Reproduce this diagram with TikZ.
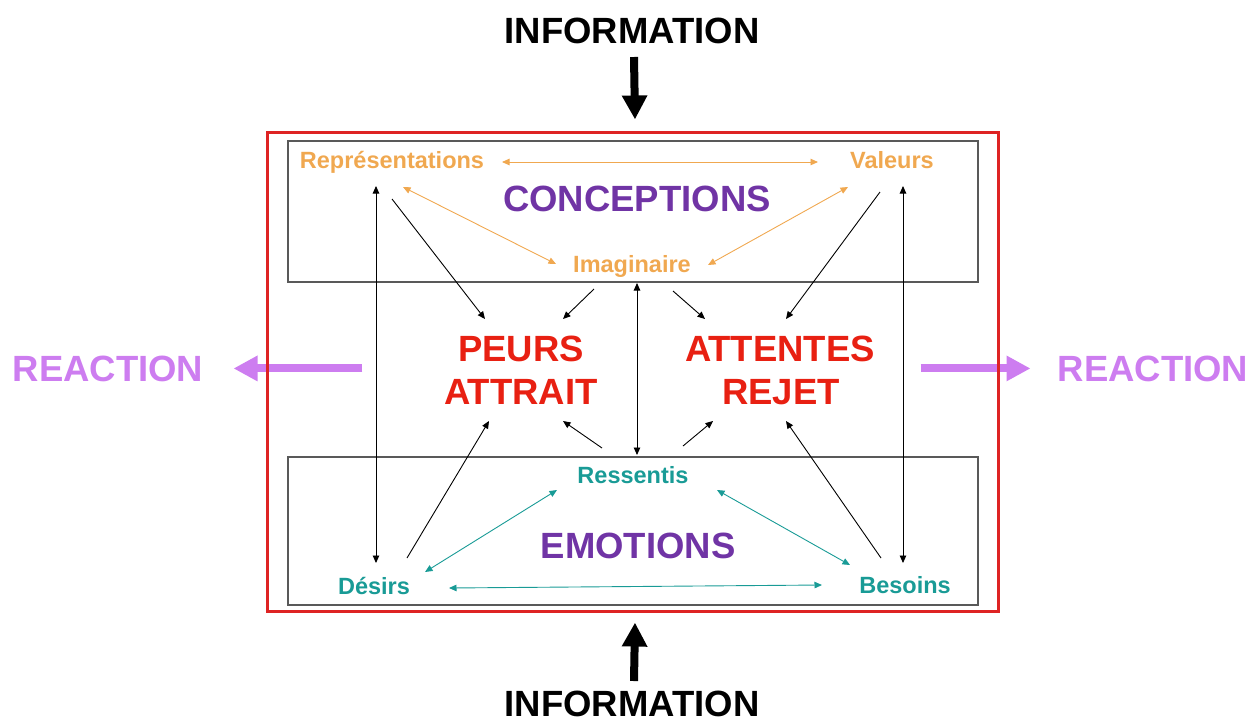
\documentclass[tikz,border=0pt]{standalone}
\usepackage{fontspec}
\setmainfont{Liberation Sans}
\usetikzlibrary{arrows.meta,calc}
\definecolor{rougeT}{RGB}{232,32,18}
\definecolor{cadreR}{RGB}{222,35,35}
\definecolor{violetT}{RGB}{112,52,165}
\definecolor{orangeC}{RGB}{240,168,80}
\definecolor{tealE}{RGB}{25,155,150}
\definecolor{mauve}{RGB}{205,125,240}
\begin{document}
\begin{tikzpicture}[x=1pt,y=-1pt,
		petit/.style={font=\fontsize{23.5}{28}\selectfont\bfseries,inner sep=0pt,anchor=base},
		grand/.style={font=\fontsize{36.5}{44}\selectfont\bfseries,inner sep=0pt,anchor=base},
		lien/.style={line width=0.9pt,-{Triangle[length=7.5pt,width=6.5pt]}},
		lien2/.style={line width=0.9pt,{Triangle[length=7.5pt,width=6.5pt]}-{Triangle[length=7.5pt,width=6.5pt]}},
		gros/.style={line width=8pt,-{Triangle[length=24pt,width=24pt]}},
		cadreGris/.style={draw=black!65,line width=1.1pt,inner sep=0pt}]
	\useasboundingbox (0,0) rectangle (1254,724);
	\node[cadreGris,minimum width=690,minimum height=141] (boxC) at (633,211.5) {};
	\node[cadreGris,minimum width=690,minimum height=148] (boxE) at (633,531) {};

	\node[grand] (infoT) at (632,43) {INFORMATION};
	\node[grand] (infoB) at (632,716) {INFORMATION};
	\node[grand,text=mauve] (reacL) at (108,381) {REACTION};
	\node[grand,text=mauve] (reacR) at (1153,381) {REACTION};
	\node[grand,text=violetT] (conc) at (637,211) {CONCEPTIONS};
	\node[grand,text=violetT] (emo) at (638,558) {EMOTIONS};
	\node[grand,text=rougeT] (peurs) at (521,361) {PEURS};
	\node[grand,text=rougeT] (attrait) at (521,404) {ATTRAIT};
	\node[grand,text=rougeT] (attentes) at (780,361) {ATTENTES};
	\node[grand,text=rougeT] (rejet) at (781,404) {REJET};

	\node[petit,text=orangeC] (rep) at (392,168) {Représentations};
	\node[petit,text=orangeC] (val) at (892,168) {Valeurs};
	\node[petit,text=orangeC] (ima) at (632,272) {Imaginaire};
	\node[petit,text=tealE] (ress) at (633,483) {Ressentis};
	\node[petit,text=tealE] (des) at (374,594) {Désirs};
	\node[petit,text=tealE] (bes) at (905,593) {Besoins};

	% conceptions
	\draw[lien2,orangeC] ($(rep.base)+(110,-6)$) -- ($(val.base)+(-74,-6)$);
	\draw[lien2,orangeC] ($(rep.base)+(11,19)$) -- ($(ima.base)+(-76,-8)$);
	\draw[lien2,orangeC] ($(val.base)+(-44,19)$) -- ($(ima.base)+(76,-7)$);
	% emotions
	\draw[lien2,tealE] ($(ress.base)+(-76,7)$) -- ($(des.base)+(51,-22)$);
	\draw[lien2,tealE] ($(ress.base)+(84,7)$) -- ($(bes.base)+(-55,-28)$);
	\draw[lien2,tealE] ($(des.base)+(75,-6)$) -- ($(bes.base)+(-83,-8)$);
	% liens verticaux
	\draw[lien2] ($(rep.base)+(-16,18)$) -- ($(des.base)+(2,-31)$);
	\draw[lien2] ($(val.base)+(11,18)$) -- ($(bes.base)+(-2,-30)$);
	\draw[lien2] ($(ima.base)+(5,11)$) -- ($(ress.base)+(4,-28)$);
	% vers peurs / attentes
	\draw[lien] ($(rep.base)+(0,31)$) -- ($(peurs.base)+(-36,-42)$);
	\draw[lien] ($(ima.base)+(-38,17)$) -- ($(peurs.base)+(42,-42)$);
	\draw[lien] ($(ima.base)+(41,19)$) -- ($(attentes.base)+(-75,-42)$);
	\draw[lien] ($(val.base)+(-12,24)$) -- ($(attentes.base)+(6,-42)$);
	\draw[lien] ($(des.base)+(33,-36)$) -- ($(attrait.base)+(-32,17)$);
	\draw[lien] ($(ress.base)+(-31,-35)$) -- ($(attrait.base)+(42,17)$);
	\draw[lien] ($(ress.base)+(50,-37)$) -- ($(rejet.base)+(-68,17)$);
	\draw[lien] ($(bes.base)+(-24,-35)$) -- ($(rejet.base)+(5,17)$);

	% information et reaction
	\draw[gros] ($(infoT.base)+(2,14)$) -- ($(boxC.north)+(2,-21)$);
	\draw[gros] ($(infoB.base)+(2,-35)$) -- ($(boxE.south)+(2,17)$);
	\draw[gros,mauve] ($(boxC.west |- reacL.east)+(75,0)$) -- ($(reacL.east)+(30,0)$);
	\draw[gros,mauve] ($(boxC.east |- reacR.west)+(-58,0)$) -- ($(reacR.west)+(-27,0)$);

	\node[draw=cadreR,line width=3pt,minimum width=731,minimum height=479,inner sep=0pt] (cadre) at (632.5,371.5) {};
\end{tikzpicture}
\end{document}
